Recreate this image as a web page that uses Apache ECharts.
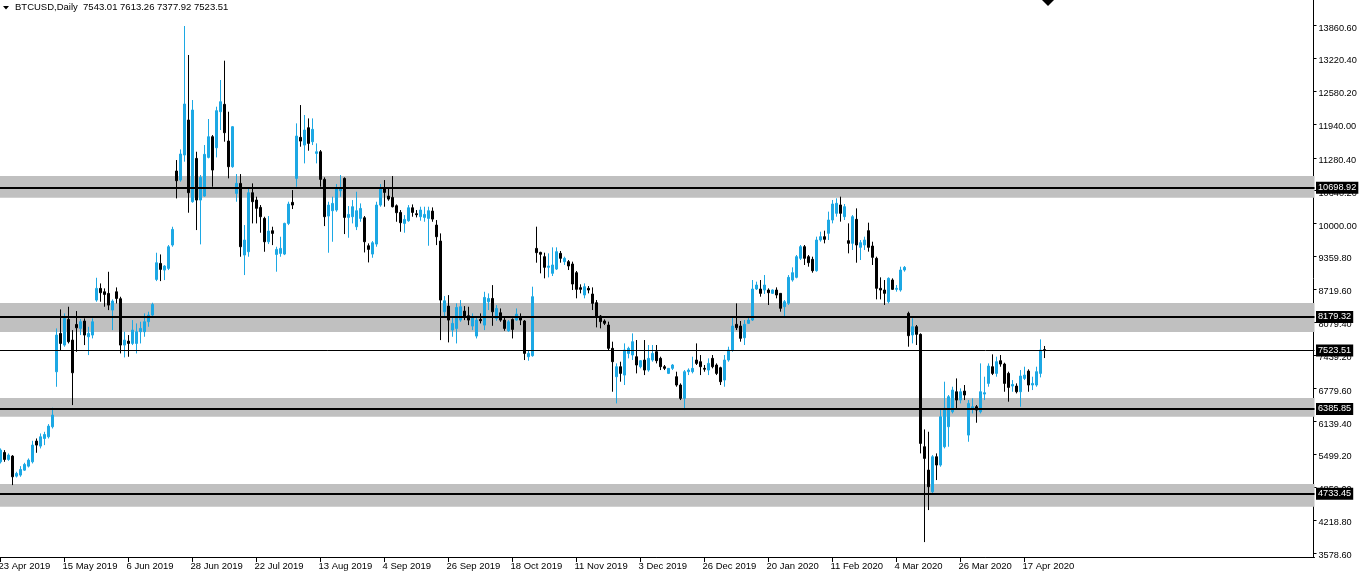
<!DOCTYPE html>
<html>
<head>
<meta charset="utf-8">
<script src="https://cdn.jsdelivr.net/npm/echarts@6/dist/echarts.min.js"></script>
<style>
html,body{margin:0;padding:0;background:#ffffff;}
#chart{width:1359px;height:576px;}
</style>
</head>
<body>
<div id="chart"></div>
<script>
// ---------- data ----------
const symbolName = 'BTCUSD,Daily';
const firstDate = '2019-04-23';            // first bar (weekday bars only)
const skippedDays = ['2019-12-25', '2020-01-01'];
const futureSlots = 67;                    // empty chart-shift space to the right

const opens = [5355,5538,5401,5466,5076,5096,5193,5271,5355,5759,5661,5810,5843,6038,7110,7858,7631,8131,7728,8033,
7956,8099,7793,7826,8508,8736,8670,8638,8313,8670,8534,7631,7708,7663,7663,7891,7891,8086,8216,8911,
9223,9093,9126,9581,11024,10848,11336,12018,10426,11270,10458,10536,11290,11693,11478,12180,12324,11609,11108,10588,
10783,9386,9451,10601,10458,10315,10100,9645,9860,9398,9418,9405,10003,10413,10880,11680,11530,11868,11595,11368,
11400,10861,10146,10250,10263,10640,10880,10120,10133,9938,10100,10113,9567,9405,9600,10360,10698,10536,10510,10347,
10217,10003,10055,10308,10191,10133,10120,10100,10243,9970,9658,8280,8391,7923,7955,8118,8293,8202,8001,7806,
8131,8020,8475,8540,8150,8261,8118,7910,8131,8118,8183,8100,7404,7424,9516,9438,9354,9146,9029,9113,
9419,9257,9257,9211,9042,8750,8607,8737,8626,8457,8197,8100,8022,7567,7014,7209,7046,7469,7437,7404,
7209,7339,7144,7339,7502,7372,7209,7079,7177,7014,6852,6592,7112,7112,7339,7307,7177,7144,7372,7242,
7190,6949,7339,7534,8035,8002,7774,8054,8119,8724,8724,8704,8704,8639,8704,8639,8379,8444,8899,8951,
9322,9549,9354,9302,9081,9679,9744,9809,10069,10199,10362,10134,9666,9614,10082,9536,9582,9861,9562,9322,
8737,8704,8477,8899,8717,8704,9094,8249,7827,7989,7840,5649,5194,4771,5454,5292,5649,6039,6331,6721,
6559,6734,5876,6397,6429,6331,6676,6884,7209,7079,7326,7261,7079,6832,6832,6721,6981,7124,6852,6852,
7079,7543.01];
const highs = [5616,5583,5518,5486,5161,5271,5336,5421,5765,5810,5908,5940,6090,6409,7956,8326,8248,8378,7923,8294,
8138,8151,7988,8151,8943,8833,8736,9060,8521,8755,8573,7891,7826,8118,8053,8086,8248,8281,8456,9431,
9398,9190,9581,9938,11238,11446,13851,13286,12408,11400,10946,11531,12038,11725,12278,12798,13175,12180,11901,10965,
10965,9971,10686,10783,10523,10361,10133,10146,9938,9548,9743,10016,10426,10653,11953,12310,12116,12050,12050,11563,
11433,10900,10425,10523,10770,10945,10900,10341,10458,10620,10393,10146,9613,9658,10425,10770,10848,10685,10926,10373,
10263,10165,10360,10373,10263,10328,10328,10328,10315,10068,9808,8586,8605,8183,8443,8508,8391,8378,8248,8183,
8248,8670,8638,8800,8410,8345,8183,8118,8150,8345,8248,8119,7515,8769,9939,9450,9432,9419,9536,9536,
9465,9354,9289,9257,9075,8815,8834,8782,8756,8509,8217,8132,8087,7697,7274,7307,7664,7599,7859,7729,
7339,7729,7632,7632,7632,7404,7242,7177,7261,7112,6884,7144,7177,7404,7664,7437,7242,7372,7437,7274,
7209,7437,7599,8184,8444,8100,8119,8184,8899,8867,8899,8997,8737,8717,8756,8639,8509,8996,9146,9387,
9582,9582,9387,9354,9744,9841,9861,10232,10459,10492,10524,10381,10004,10166,10296,9679,9744,10017,9646,9354,
8951,8899,8951,8932,8802,9159,9172,8282,8152,8022,7859,5987,5941,5486,5519,6364,6917,6657,6819,6981,
6787,6852,6559,6592,6462,7274,7014,7274,7450,7404,7437,7287,7112,6949,6884,7144,7209,7157,7014,7209,
7742,7613.26];
const lows = [5323,5355,5375,4901,5050,5063,5180,5245,5323,5531,5616,5681,5810,6005,6818,7533,7598,7663,6461,7500,
7826,7631,7436,7761,8476,8476,8378,8313,7923,8443,7468,7390,7403,7631,7468,7663,7793,7988,8164,8878,
8878,8898,9093,9548,10490,10816,11206,10211,10406,9873,9594,10523,11270,10718,11290,11823,11596,10881,11088,10426,
9353,8996,9353,10003,10003,9821,9450,9600,9580,9061,9353,9385,9970,10283,10718,11498,11173,11420,11530,11173,
10718,9951,9431,9645,10230,10523,9795,9723,10003,9873,10035,9437,9242,9333,9548,10328,10328,10445,10315,10035,
9840,9821,10035,10133,10120,10055,10035,9567,10035,9580,7728,8183,7683,7793,7663,8085,8118,8020,7923,7760,
8053,7923,8313,8007,8105,8085,7910,7890,7760,8105,8020,7339,7326,7404,9237,9029,8932,8951,8977,9094,
9237,9192,9094,8704,8542,8639,8542,8639,8314,7976,7957,8021,7534,6721,6494,6917,6852,7372,7339,7079,
7177,7046,7112,7307,7274,7144,7144,7066,7144,6819,6559,6364,7046,7079,7242,7046,7112,7046,7177,7046,
6852,6819,7307,7502,7924,7697,7632,8041,8100,8704,8574,8626,8412,8626,8542,8282,8184,8412,8867,8932,
9289,9192,9159,9042,9062,9646,9614,9679,10004,10134,10037,10069,9419,9484,9237,9289,9484,9452,9192,8522,
8522,8412,8444,8704,8672,8672,9062,7599,7664,7632,5519,3790,4414,4726,4999,5259,5617,5649,6299,6397,
6494,6559,5746,6299,6117,6299,6559,6819,7046,7014,7209,6721,6527,6721,6689,6429,6949,6721,6754,6819,
7001,7377.92];
const closes = [5583,5401,5486,5063,5128,5206,5304,5388,5681,5681,5843,5888,6051,6266,7826,7663,8151,7696,7091,7968,
8086,7826,7858,8086,8736,8651,8618,8410,8488,8540,7631,7728,7663,7923,7891,7956,8086,8216,8424,9236,
9106,9171,9548,9886,10835,11355,12330,10601,12213,10458,10900,11349,11693,11043,12200,12375,11771,11108,11888,10783,
9548,9678,10601,10426,10296,10133,9645,9854,9808,9496,9516,10003,10380,10361,11706,11608,11823,11563,11836,11400,
10861,10133,10360,10393,10672,10698,10120,10178,10328,10250,10295,9645,9496,9626,10360,10685,10607,10477,10328,10211,
10016,10081,10308,10217,10172,10263,10178,10250,10087,9743,8508,8495,8118,8053,8365,8378,8183,8118,8183,8118,
8105,8560,8540,8280,8345,8118,7955,8085,7936,8235,8118,7469,7469,8574,9432,9400,9146,9172,9192,9452,
9322,9322,9172,8821,8717,8717,8769,8704,8444,8184,8087,8054,7567,7307,7209,7079,7534,7567,7697,7242,
7326,7144,7372,7469,7326,7209,7177,7177,7242,6852,6592,7112,7144,7177,7274,7209,7160,7274,7209,7079,
6917,7339,7534,8002,7970,7762,8035,8119,8724,8802,8639,8802,8652,8704,8607,8347,8477,8951,9042,9354,
9549,9322,9237,9081,9679,9744,9692,10069,10381,10394,10199,10329,9614,10134,9582,9627,9679,9536,9341,8737,
8704,8639,8932,8717,8737,9094,9146,7814,7989,7840,5714,5422,4869,5454,5292,6234,6397,6624,6754,6559,
6721,6657,6494,6429,6364,6721,6702,7222,7079,7307,7261,6884,6806,6864,6721,7027,7046,6852,6884,7112,
7534,7523.51];

// horizontal price levels and their grey zones
const levelPrices = [10698.92, 8179.32, 6385.85, 4733.45];
const zoneLows    = [10504, 7885, 6235, 4480];
const zoneHighs   = [10927, 8451, 6599, 4923];
const bidPrice = 7523.51;

// right price-scale labels
const priceTicks = [3578.60, 4218.80, 4859.00, 5499.20, 6139.40, 6779.60, 7439.20, 8079.40, 8719.60,
                    9359.80, 10000.00, 10640.20, 11280.40, 11940.00, 12580.20, 13220.40, 13860.60];
const dateLabelStep = 16;

// ---------- helpers ----------
const MONTHS = ['Jan','Feb','Mar','Apr','May','Jun','Jul','Aug','Sep','Oct','Nov','Dec'];
function buildDates(start, count, skip) {
  const out = [];
  const d = new Date(start + 'T00:00:00Z');
  while (out.length < count) {
    const wd = d.getUTCDay();
    const iso = d.toISOString().slice(0, 10);
    if (wd !== 0 && wd !== 6 && skip.indexOf(iso) < 0) out.push(iso);
    d.setUTCDate(d.getUTCDate() + 1);
  }
  return out;
}
function fmtDate(iso) {
  const p = iso.split('-');
  return (+p[2]) + ' ' + MONTHS[+p[1] - 1] + ' ' + p[0];
}
const nBars = closes.length;
const dates = buildDates(firstDate, nBars + futureSlots, skippedDays);
const candles = opens.map((o, i) => [o, closes[i], lows[i], highs[i]]);
const showDate = (i) => i % dateLabelStep === 0 && i < nBars;

const FONT = 'Liberation Sans';
const BULL = '#1CA8E4';

const chart = echarts.init(document.getElementById('chart'), null, {renderer: 'canvas'});
chart.setOption({
  animation: false,
  backgroundColor: '#ffffff',
  grid: {left: -1.5, top: 0, width: (nBars + futureSlots) * 4, height: 557,
         containLabel: false, outerBoundsMode: 'none'},
  xAxis: {
    type: 'category',
    data: dates,
    boundaryGap: true,
    axisLine: {show: true, lineStyle: {color: '#000', width: 1}},
    axisTick: {show: true, interval: showDate, alignWithLabel: true, length: 5, lineStyle: {color: '#000'}},
    axisLabel: {show: true, interval: showDate, formatter: fmtDate, align: 'left', margin: 4,
                padding: [0, 0, 0, -2], color: '#000', fontSize: 9.5, fontFamily: FONT},
    splitLine: {show: false}
  },
  yAxis: {
    type: 'value',
    position: 'right',
    offset: -1,
    min: 3499.4,
    max: 14358.1,
    axisLine: {show: true, lineStyle: {color: '#000', width: 1}},
    axisTick: {show: true, length: 3, customValues: priceTicks, lineStyle: {color: '#000'}},
    axisLabel: {show: true, customValues: priceTicks, formatter: (v) => v.toFixed(2), margin: 5,
                verticalAlign: 'top', lineHeight: 5,
                color: '#000', fontSize: 9.2, fontFamily: FONT},
    splitLine: {show: false}
  },
  graphic: [
    {type: 'polygon', left: 3, top: 6, shape: {points: [[0, 0], [6, 0], [3, 3.5]]}, style: {fill: '#000'}},
    {type: 'text', left: 15, top: 2,
     style: {text: symbolName + '  ' + [opens[nBars-1], highs[nBars-1], lows[nBars-1], closes[nBars-1]].map(v => v.toFixed(2)).join(' '),
             fill: '#000', font: '9.5px "Liberation Sans"'}},
    {type: 'polygon', left: 1042, top: 0, shape: {points: [[0, 0], [12, 0], [6, 6]]}, style: {fill: '#000'}}
  ],
  series: [
    {
      type: 'line', data: [], z: 1, silent: true,
      markArea: {
        silent: true,
        itemStyle: {color: '#C0C0C0', opacity: 1},
        data: zoneLows.map((lo, i) => [{yAxis: lo}, {yAxis: zoneHighs[i]}])
      }
    },
    {
      type: 'candlestick', z: 2,
      data: candles,
      barWidth: 3,
      itemStyle: {color: BULL, color0: '#000', borderColor: BULL, borderColor0: '#000', borderWidth: 1}
    },
    {
      type: 'line', data: [], z: 3, silent: true,
      markLine: {
        silent: true, symbol: 'none', animation: false,
        label: {show: true, position: 'end', distance: 1.5, formatter: (p) => p.value.toFixed(2),
                color: '#fff', backgroundColor: '#000', padding: [2, 2, 1, 2], fontSize: 9.2, fontFamily: FONT},
        data: levelPrices.map(v => ({yAxis: v, lineStyle: {color: '#000', width: 2, type: 'solid'}}))
              .concat([{yAxis: bidPrice, lineStyle: {color: '#000', width: 1, type: 'solid'}}])
      }
    }
  ]
});
</script>
</body>
</html>
